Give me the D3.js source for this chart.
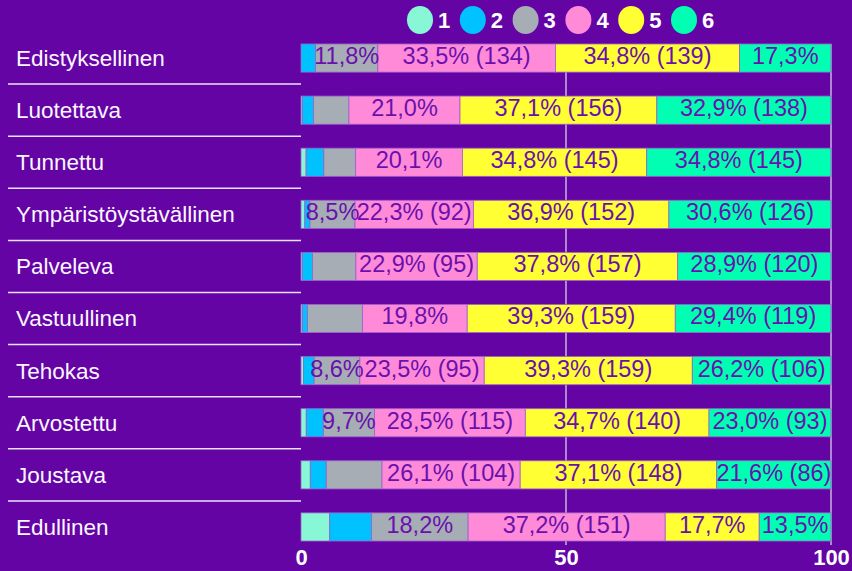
<!DOCTYPE html>
<html>
<head>
<meta charset="utf-8">
<script src="https://cdn.jsdelivr.net/npm/d3@7"></script>
<style>
  html, body { margin: 0; padding: 0; background: #6404a4; }
  svg { display: block; font-family: "Liberation Sans", Arial, sans-serif; }
</style>
</head>
<body>
<div id="chart"></div>
<script>
var categories = ["Edistyksellinen", "Luotettava", "Tunnettu", "Ympäristöystävällinen", "Palveleva",
                  "Vastuullinen", "Tehokas", "Arvostettu", "Joustava", "Edullinen"];
var seriesNames = ["1", "2", "3", "4", "5", "6"];

// answer counts per series, one value per category
var s1 = [0, 1, 4, 3, 1, 1, 2, 4, 7, 22];
var s2 = [11, 9, 14, 4, 8, 4, 8, 13, 12, 32];
var s3 = [47, 28, 25, 35, 34, 42, 35, 39, 42, 74];
var s4 = [134, 88, 84, 92, 95, 80, 95, 115, 104, 151];
var s5 = [139, 156, 145, 152, 157, 159, 159, 140, 148, 72];
var s6 = [69, 138, 145, 126, 120, 119, 106, 93, 86, 55];

// which labels the picture shows: 0 none, 1 percent, 2 percent + count
var m1 = [0, 0, 0, 0, 0, 0, 0, 0, 0, 0];
var m2 = [0, 0, 0, 0, 0, 0, 0, 0, 0, 0];
var m3 = [1, 0, 0, 1, 0, 0, 1, 1, 0, 1];
var m4 = [2, 1, 1, 2, 2, 1, 2, 2, 2, 2];
var m5 = [2, 2, 2, 2, 2, 2, 2, 2, 2, 1];
var m6 = [1, 2, 2, 2, 2, 2, 2, 2, 2, 1];

var xTicks = [0, 50, 100];

var series = [s1, s2, s3, s4, s5, s6];
var modes = [m1, m2, m3, m4, m5, m6];
var colors = ["#88f7d6", "#00c2ff", "#a7adb4", "#ff8ad8", "#ffff33", "#00ffb2"];

var width = 852, height = 571;
var margin = {left: 301, right: 21, top: 32, bottom: 18};

var fi = d3.formatLocale({decimal: ",", thousands: " ", grouping: [3], currency: ["", "€"]});
var fmt = fi.format(".1f");

var svg = d3.select("#chart").append("svg")
    .attr("width", width)
    .attr("height", height);

svg.append("rect").attr("width", width).attr("height", height).attr("fill", "#6404a4");

var xScale = d3.scaleLinear().domain([0, 100]).range([margin.left, width - margin.right]);
var yScale = d3.scaleBand().domain(categories)
    .range([margin.top, height - margin.bottom])
    .paddingInner(0.46).paddingOuter(0.23);

// build stacked rows
var rows = categories.map(function(c, i) {
    var total = d3.sum(series, function(s) { return s[i]; });
    var acc = 0;
    return series.map(function(s, k) {
        var p = s[i] / total * 100;
        var seg = {cat: c, key: k, count: s[i], pct: p, x0: acc, x1: acc + p, mode: modes[k][i]};
        acc += p;
        return seg;
    });
});

// grid lines
var gridTop = yScale(categories[0]);
var gridBottom = yScale(categories[categories.length - 1]) + yScale.bandwidth() + 4;
svg.append("g").selectAll("line")
    .data([50, 100])
    .enter().append("line")
    .attr("x1", function(d) { return xScale(d); })
    .attr("x2", function(d) { return xScale(d); })
    .attr("y1", gridTop)
    .attr("y2", gridBottom)
    .attr("stroke", "#c7b2e2")
    .attr("stroke-width", 1.5);

// separators between category labels
svg.append("g").selectAll("line")
    .data(categories.slice(1))
    .enter().append("line")
    .attr("x1", 8)
    .attr("x2", xScale(0))
    .attr("y1", function(d) { return yScale(d) - yScale.step() * yScale.paddingInner() / 2; })
    .attr("y2", function(d) { return yScale(d) - yScale.step() * yScale.paddingInner() / 2; })
    .attr("stroke", "#ece0fa")
    .attr("stroke-width", 1.5);

// category labels
svg.append("g").selectAll("text")
    .data(categories)
    .enter().append("text")
    .attr("x", 16)
    .attr("y", function(d) { return yScale(d) + yScale.bandwidth() / 2; })
    .attr("dy", "0.35em")
    .attr("fill", "#fbf6ff")
    .style("font-size", "22.5px")
    .text(function(d) { return d; });

var rowG = svg.append("g").selectAll("g")
    .data(rows)
    .enter().append("g");

rowG.selectAll("rect")
    .data(function(d) { return d; })
    .enter().append("rect")
    .attr("x", function(d) { return xScale(d.x0); })
    .attr("width", function(d) { return xScale(d.x1) - xScale(d.x0); })
    .attr("y", function(d) { return yScale(d.cat); })
    .attr("height", yScale.bandwidth())
    .attr("fill", function(d) { return colors[d.key]; })
    .attr("stroke", "#9d62cc")
    .attr("stroke-width", 0.8);

rowG.selectAll("text")
    .data(function(d) { return d.filter(function(s) { return s.mode > 0; }); })
    .enter().append("text")
    .attr("x", function(d) { return xScale((d.x0 + d.x1) / 2); })
    .attr("y", function(d) { return yScale(d.cat) + yScale.bandwidth() / 2; })
    .attr("dy", "0.25em")
    .attr("text-anchor", "middle")
    .attr("fill", "#6a10ae")
    .style("font-size", "23.5px")
    .text(function(d) {
        var t = fmt(d.pct) + "%";
        if (d.mode == 2) t += " (" + d.count + ")";
        return t;
    });

// x axis
var xAxis = d3.axisBottom(xScale).tickValues(xTicks).tickSize(0).tickPadding(0).tickFormat(d3.format("d"));
var axisG = svg.append("g")
    .attr("transform", "translate(0," + 549 + ")")
    .call(xAxis);
axisG.select(".domain").remove();
axisG.selectAll("text")
    .attr("dy", "0.72em")
    .attr("fill", "#ffffff")
    .style("font-size", "22px")
    .style("font-weight", "bold")
    .style("font-family", "'Liberation Sans', Arial, sans-serif");

// legend
var legend = svg.append("g").selectAll("g")
    .data(seriesNames)
    .enter().append("g")
    .attr("transform", function(d, i) { return "translate(" + (420 + i * 52.8) + ",20)"; });
legend.append("ellipse")
    .attr("rx", 13)
    .attr("ry", 14)
    .attr("fill", function(d, i) { return colors[i]; });
legend.append("text")
    .attr("x", 18)
    .attr("dy", "0.36em")
    .attr("fill", "#ffffff")
    .style("font-size", "22px")
    .style("font-weight", "bold")
    .text(function(d) { return d; });
</script>
</body>
</html>
